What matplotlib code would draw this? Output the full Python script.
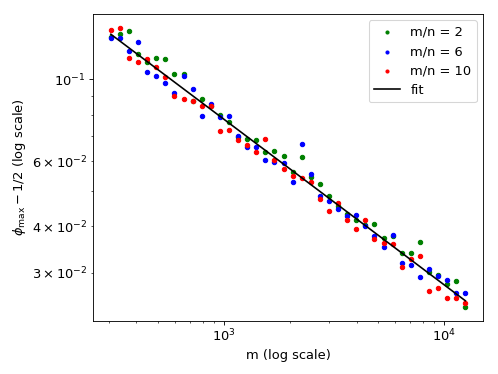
import numpy as np
import matplotlib.pyplot as plt

# m values (shared by all three ratios)
m = np.geomspace(307, 12450, 40)

# phi_max - 1/2 for each m/n ratio
phi_r2 = [0.1298, 0.1320, 0.1347, 0.1166, 0.1109, 0.1137, 0.1134, 0.1031, 0.1033, 0.0872,
          0.0883, 0.0846, 0.0798, 0.0767, 0.0698, 0.0688, 0.0686, 0.0636, 0.0640, 0.0621,
          0.0561, 0.0615, 0.0545, 0.0521, 0.0484, 0.0455, 0.0433, 0.0415, 0.0404, 0.0405,
          0.0372, 0.0376, 0.0339, 0.0338, 0.0363, 0.0301, 0.0296, 0.0280, 0.0284, 0.0243]
phi_r6 = [0.1292, 0.1292, 0.1190, 0.1260, 0.1042, 0.1021, 0.0974, 0.0917, 0.1017, 0.0938,
          0.0797, 0.0858, 0.0788, 0.0795, 0.0702, 0.0657, 0.0657, 0.0604, 0.0596, 0.0595,
          0.0528, 0.0668, 0.0554, 0.0484, 0.0467, 0.0446, 0.0427, 0.0430, 0.0402, 0.0376,
          0.0351, 0.0380, 0.0319, 0.0314, 0.0292, 0.0306, 0.0294, 0.0286, 0.0265, 0.0265]
phi_r10 = [0.1355, 0.1375, 0.1137, 0.1113, 0.1130, 0.1079, 0.1011, 0.0898, 0.0882, 0.0870,
           0.0847, 0.0843, 0.0725, 0.0728, 0.0685, 0.0664, 0.0636, 0.0687, 0.0604, 0.0570,
           0.0548, 0.0539, 0.0527, 0.0474, 0.0441, 0.0462, 0.0417, 0.0394, 0.0415, 0.0371,
           0.0361, 0.0358, 0.0310, 0.0327, 0.0333, 0.0268, 0.0273, 0.0256, 0.0256, 0.0248]

ratios = [2, 6, 10]
colors = ["green", "blue", "red"]

plt.rcParams["font.size"] = 12

fig = plt.figure(figsize=(498 / 78, 374 / 78), dpi=78)
fig.subplots_adjust(left=0.187, right=0.970, bottom=0.143, top=0.963)

for r, c, phi in zip(ratios, colors, [phi_r2, phi_r6, phi_r10]):
    plt.scatter(m, phi, color=c, s=16, label=f"m/n = {r}")

# power-law fit on all points
all_m = np.concatenate([m, m, m])
all_phi = np.concatenate([phi_r2, phi_r6, phi_r10])
slope, intercept = np.polyfit(np.log(all_m), np.log(all_phi), 1)
plt.plot(m, np.exp(intercept) * m ** slope, color="black", lw=1.5, label="fit")

plt.xscale("log")
plt.yscale("log")
plt.xlabel("m (log scale)")
plt.ylabel(r"$\phi_{\max} - 1/2$ (log scale)")
plt.legend(loc="upper right", markerscale=0.7)
plt.savefig("out.png", dpi=78)
